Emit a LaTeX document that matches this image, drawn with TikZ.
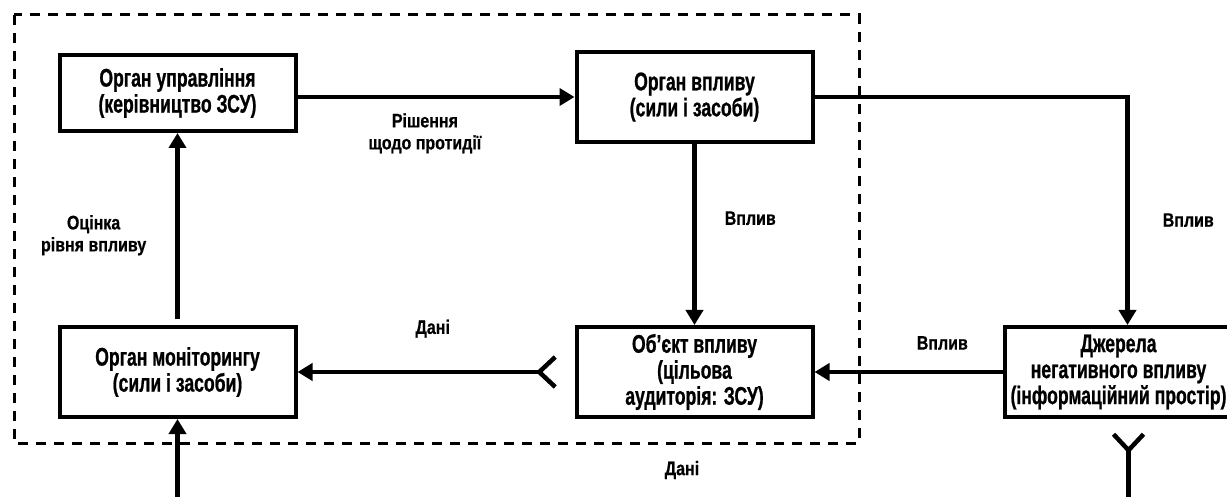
\documentclass[tikz,border=0pt]{standalone}
\usepackage{fontspec}
\setmainfont{Liberation Sans}[FakeStretch=0.82, BoldFeatures={FakeBold=0.6}]
\newfontfamily\boxfont{Liberation Sans}[FakeStretch=0.69, BoldFeatures={FakeBold=0.8}]
\usetikzlibrary{positioning, arrows.meta}

\tikzset{
  head/.tip={Triangle[length=15pt, width=17pt]},
  src/.tip={Straight Barb[reversed, length=16pt, width=30pt]}
}

\begin{document}
\begin{tikzpicture}[x=1pt, y=-1pt, box/.style={draw, line width=4pt, align=center, font=\boxfont\bfseries\fontsize{25.5}{26}\selectfont, minimum width=236pt, minimum height=90pt, inner sep=2pt}, lab/.style={align=center, font=\bfseries\fontsize{19.5}{22}\selectfont, inner sep=0pt}, ln/.style={line width=4.5pt}]
		\useasboundingbox (0,0) rectangle (1227,497);
		\draw[line width=3pt, dash pattern=on 10pt off 8pt] (14,15) rectangle (859,443);

		\node[box, minimum height=76pt] (A) at (177.5,93) {Орган управління\\(керівництво ЗСУ)};
		\node[box, below=192pt of A] (C) {Орган моніторингу\\(сили і засоби)};
		\node[box, right=277pt of C] (D) {Об’єкт впливу\\(цільова\\аудиторія: ЗСУ)};
		\node[box, above=181pt of D] (B) {Орган впливу\\(сили і засоби)};
		\node[box, right=188pt of D, minimum width=228pt] (E) {Джерела\\негативного впливу\\(інформаційний простір)};

		\coordinate[left=17pt of D] (D_tail);
		\coordinate[below=13pt of E.south, xshift=10pt] (E_tail);
		\coordinate (E_out) at (E_tail |- 0,500);
		\coordinate (C_in) at (C.south |- E_out);

		\draw[ln, -head] (A.east |- B.west) -- node[lab, below=14pt, pos=.46] {Рішення\\щодо протидії} (B.west);
		\draw[ln, -head] (B.east) -| node[lab, right=33pt, pos=.77] {Вплив} ([xshift=9pt]E.north);
		\draw[ln, -head] (B) -- node[lab, right=28pt, pos=.41] {Вплив} (D);
		\draw[ln, -head] ([yshift=6pt]C.north) -- node[lab, left=29pt, pos=.45] {Оцінка\\рівня впливу} (A);
		\draw[ln, src-head] (D_tail) -- node[lab, above=32pt, pos=.48] {Дані} (C.east);
		\draw[ln, -head] (E) -- node[lab, above=20pt, pos=.32] {Вплив} (D);
		\draw[ln, src-] (E_tail) -- (E_out);
		\draw[ln, -head] (C_in) -- (C.south);

		\node[lab] (data_out) at (682,470) {Дані};
	\end{tikzpicture}
\end{document}
